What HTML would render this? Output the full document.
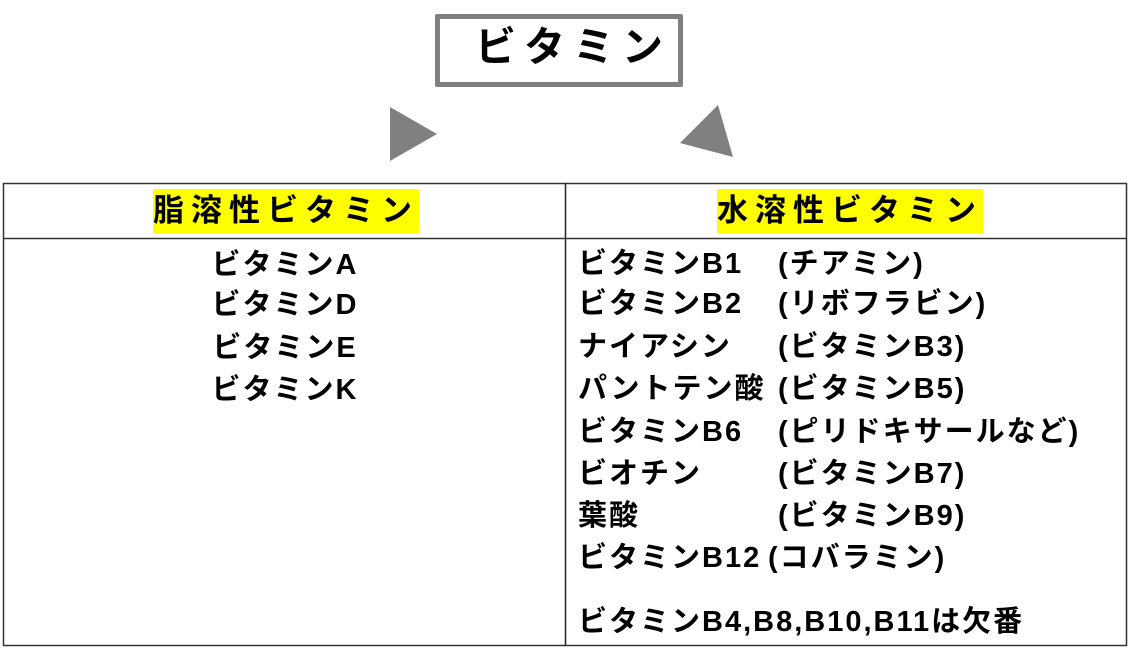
<!DOCTYPE html>
<html><head><meta charset="utf-8"><style>
body{margin:0;width:1128px;height:648px;background:#fff;position:relative;overflow:hidden;font-family:"Liberation Sans","Noto Sans CJK JP",sans-serif;font-weight:bold;color:#000}
.a{position:absolute;white-space:nowrap}
.t{position:absolute;left:435px;top:14px;width:238px;height:63px;border:5px solid #808080;border-radius:2px}
.r{font-size:29px;line-height:32px;letter-spacing:2px}
.hl{background:#ff0;font-size:31px;line-height:44px;letter-spacing:7px}
</style></head><body>
<div class="t"></div>
<div class="a" style="left:475px;top:21px;font-size:41px;line-height:52px;letter-spacing:8px">ビタミン</div>
<svg class="a" style="left:0;top:0" width="1128" height="648">
<polygon points="390,107 390,161 437,134" fill="#808080"/>
<polygon points="680,143 733,157 718,105" fill="#808080"/>
<rect x="3.5" y="183.5" width="1123" height="462" fill="none" stroke="#333" stroke-width="1.5"/>
<line x1="3" y1="238.5" x2="1127" y2="238.5" stroke="#333" stroke-width="1.5"/>
<line x1="565.5" y1="183" x2="565.5" y2="646" stroke="#222" stroke-width="1.5"/>
</svg>
<div class="a hl" style="left:153px;top:189px">脂溶性ビタミン</div>
<div class="a hl" style="left:717px;top:189px">水溶性ビタミン</div>
<div class="a r" style="left:185px;top:249px;width:200px;text-align:center">ビタミンA</div>
<div class="a r" style="left:185px;top:289px;width:200px;text-align:center">ビタミンD</div>
<div class="a r" style="left:185px;top:332px;width:200px;text-align:center">ビタミンE</div>
<div class="a r" style="left:185px;top:374px;width:200px;text-align:center">ビタミンK</div>

<div class="a r" style="left:578px;top:248px">ビタミンB1</div><div class="a r" style="left:778px;top:248px">(チアミン)</div>
<div class="a r" style="left:578px;top:288px">ビタミンB2</div><div class="a r" style="left:778px;top:288px">(リボフラビン)</div>
<div class="a r" style="left:578px;top:331px">ナイアシン</div><div class="a r" style="left:778px;top:331px">(ビタミンB3)</div>
<div class="a r" style="left:578px;top:373px">パントテン酸</div><div class="a r" style="left:778px;top:373px">(ビタミンB5)</div>
<div class="a r" style="left:578px;top:416px">ビタミンB6</div><div class="a r" style="left:778px;top:416px">(ピリドキサールなど)</div>
<div class="a r" style="left:578px;top:458px">ビオチン</div><div class="a r" style="left:778px;top:458px">(ビタミンB7)</div>
<div class="a r" style="left:578px;top:500px">葉酸</div><div class="a r" style="left:778px;top:500px">(ビタミンB9)</div>
<div class="a r" style="left:578px;top:542px">ビタミンB12</div><div class="a r" style="left:768px;top:542px">(コバラミン)</div>
<div class="a r" style="left:578px;top:606px">ビタミンB4,B8,B10,B11は欠番</div>
</body></html>
